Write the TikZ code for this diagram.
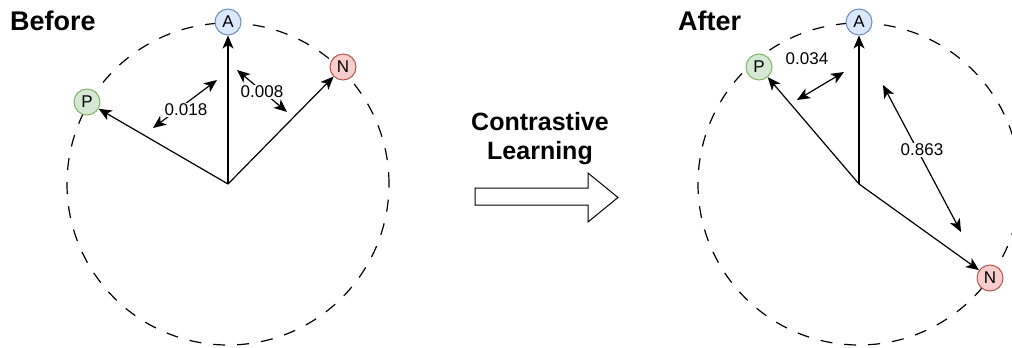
\documentclass[tikz,border=0pt]{standalone}
\usepackage{fontspec}
\setmainfont{Liberation Sans}
\usetikzlibrary{arrows.meta}

\definecolor{afill}{HTML}{DAE8FC}
\definecolor{aline}{HTML}{6C8EBF}
\definecolor{pfill}{HTML}{D5E8D4}
\definecolor{pline}{HTML}{82B366}
\definecolor{nfill}{HTML}{F8CECC}
\definecolor{nline}{HTML}{B85450}

\tikzset{
  emb/.style={circle,draw,line width=1pt,minimum size=26pt,inner sep=0pt,
    font=\fontsize{17}{17}\selectfont},
  vec/.style={line width=1.2pt,-{Stealth[length=13pt,width=11pt,inset=3.5pt]}},
  sim/.style={line width=1.2pt,
    {Stealth[length=13pt,width=11pt,inset=3.5pt]}-{Stealth[length=13pt,width=11pt,inset=3.5pt]}},
  val/.style={font=\fontsize{17}{17}\selectfont,fill=white,inner sep=1pt},
  sphere/.style={line width=1.2pt,dash pattern=on 12pt off 12pt},
  title/.style={font=\fontsize{27}{27}\selectfont\bfseries,anchor=west,inner sep=0pt},
  head/.style={font=\fontsize{25}{25}\selectfont\bfseries,inner sep=0pt}
}

\begin{document}
\begin{tikzpicture}[x=1pt,y=-1pt]
  \useasboundingbox (0,0) rectangle (1012,348);
  \clip (0,0) rectangle (1012,348);
  % Vorher
  \coordinate (o1) at (228,184);
  \draw[sphere] (o1) circle[radius=161pt];
  \node[emb,fill=afill,draw=aline] (A1) at (228,22) {A};
  \node[emb,fill=pfill,draw=pline] (P1) at (87,102) {P};
  \node[emb,fill=nfill,draw=nline] (N1) at (343,67) {N};
  \foreach \n in {A1,P1,N1}
    \draw[vec] (o1) -- (\n);
  \coordinate (s1a) at (153,128);
  \coordinate (s1b) at (217,80);
  \coordinate (s2a) at (237,70);
  \coordinate (s2b) at (287,112);
  \draw[sim] (s1a) -- (s1b);
  \draw[sim] (s2a) -- (s2b);
  \node[val] (v1) at (186,110) {0.018};
  \node[val] (v2) at (262,92) {0.008};
  \node[title] (before) at (10,21) {Before};
  % Pfeil in der Mitte
  \draw[line width=1pt] (475,188) -- (588,188) -- (588,173) -- (618,197.5)
    -- (588,222) -- (588,205) -- (475,205) -- cycle;
  \node[head] (cl1) at (540,122) {Contrastive};
  \node[head] (cl2) at (540,153) {Learning};
  % Nachher
  \coordinate (o2) at (859,184);
  \draw[sphere] (o2) circle[radius=161pt];
  \node[emb,fill=afill,draw=aline] (A2) at (859,22) {A};
  \node[emb,fill=pfill,draw=pline] (P2) at (759,67) {P};
  \node[emb,fill=nfill,draw=nline] (N2) at (990,278) {N};
  \foreach \n in {A2,P2,N2}
    \draw[vec] (o2) -- (\n);
  \coordinate (s3a) at (797,100);
  \coordinate (s3b) at (844,72);
  \coordinate (s4a) at (883,85);
  \coordinate (s4b) at (961,232);
  \draw[sim] (s3a) -- (s3b);
  \draw[sim] (s4a) -- (s4b);
  \node[val] (v3) at (807,59) {0.034};
  \node[val] (v4) at (922,150) {0.863};
  \node[title] (after) at (678,21) {After};
\end{tikzpicture}
\end{document}
